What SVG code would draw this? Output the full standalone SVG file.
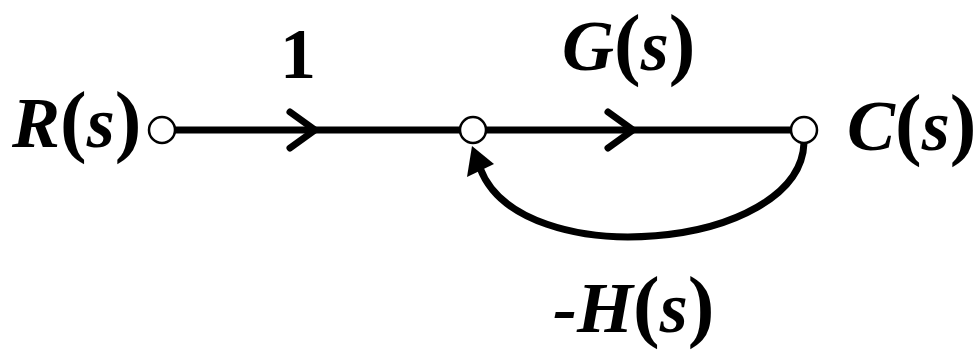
<svg xmlns="http://www.w3.org/2000/svg" width="975" height="354" viewBox="0 0 975 354">
  <style>
    .lbl { font-family: "Liberation Serif", "Times New Roman", serif; font-weight: bold; font-size: 72px; fill: #000; }
    .it { font-style: italic; }
    .p { font-size: 80px; }
    .edge { fill: none; stroke: #000; stroke-width: 7; stroke-linecap: round; stroke-linejoin: round; }
    .node { fill: #fff; stroke: #000; stroke-width: 2.5; }
  </style>
  <rect width="975" height="354" fill="#fff"/>
  <g id="connectors">
    <line class="edge" x1="175" y1="130" x2="460" y2="130"/>
    <polyline class="edge" points="290,112 315,130 290,148"/>
    <line class="edge" x1="486" y1="130" x2="791" y2="130"/>
    <polyline class="edge" points="608,112 633,130 608,148"/>
    <path class="edge" d="M804 143 C800 250 520 275 480 168"/>
    <path d="M472 146 L467 177 L494 164 Z" fill="#000"/>
  </g>
  <g id="node-R">
    <circle class="node" cx="162" cy="130" r="13"/>
    <text class="lbl" x="12" y="147"><tspan class="it">R</tspan><tspan class="p">(</tspan><tspan class="it">s</tspan><tspan class="p">)</tspan></text>
  </g>
  <g id="node-mid">
    <circle class="node" cx="473" cy="130" r="13"/>
  </g>
  <g id="node-C">
    <circle class="node" cx="804" cy="130" r="13"/>
    <text class="lbl" x="847" y="150"><tspan class="it">C</tspan><tspan class="p">(</tspan><tspan class="it">s</tspan><tspan class="p">)</tspan></text>
  </g>
  <g id="labels">
    <text class="lbl" x="280" y="78">1</text>
    <text class="lbl" x="562" y="70"><tspan class="it">G</tspan><tspan class="p">(</tspan><tspan class="it">s</tspan><tspan class="p">)</tspan></text>
    <text class="lbl" x="553" y="332"><tspan class="it">-H</tspan><tspan class="p">(</tspan><tspan class="it">s</tspan><tspan class="p">)</tspan></text>
  </g>
</svg>
